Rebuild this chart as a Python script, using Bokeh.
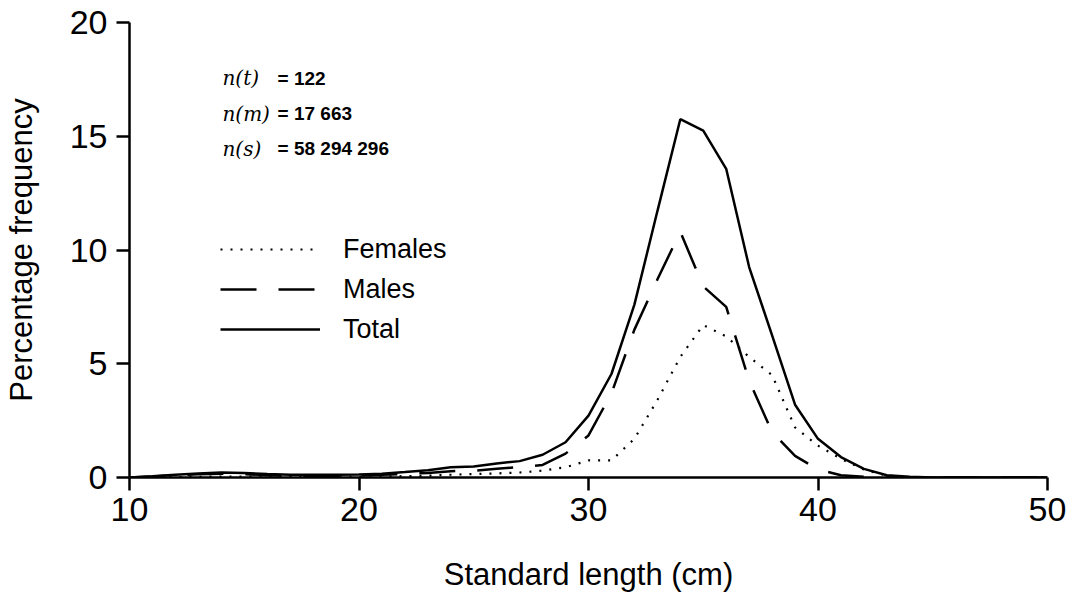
from bokeh.plotting import figure
from bokeh.models import Range1d, FixedTicker, Legend, LegendItem, Label
from bokeh.embed import file_html
from bokeh.resources import INLINE

lengths = list(range(10, 51))
total = [0.0, 0.05, 0.12, 0.18, 0.22, 0.2, 0.15, 0.12, 0.12, 0.12,
         0.13, 0.17, 0.24, 0.32, 0.45, 0.48, 0.62, 0.72, 1.0, 1.55,
         2.72, 4.55, 7.6, 11.7, 15.75, 15.25, 13.57, 9.25, 6.25, 3.2,
         1.7, 0.9, 0.38, 0.1, 0.03, 0.0, 0.0, 0.0, 0.0, 0.0, 0.0]
males = [0.0, 0.04, 0.1, 0.14, 0.17, 0.15, 0.1, 0.08, 0.08, 0.08,
         0.09, 0.12, 0.16, 0.2, 0.28, 0.3, 0.38, 0.46, 0.55, 1.05,
         1.85, 3.7, 6.5, 8.7, 10.8, 8.4, 7.5, 4.25, 2.0, 0.95,
         0.35, 0.1, 0.03, 0.0, 0.0, 0.0, 0.0, 0.0, 0.0, 0.0, 0.0]
females = [0.0, 0.01, 0.02, 0.03, 0.04, 0.04, 0.03, 0.03, 0.03, 0.03,
           0.03, 0.04, 0.06, 0.08, 0.12, 0.15, 0.18, 0.22, 0.3, 0.45,
           0.75, 0.75, 1.7, 3.4, 5.3, 6.7, 6.2, 5.3, 4.5, 2.2,
           1.4, 0.82, 0.35, 0.08, 0.02, 0.0, 0.0, 0.0, 0.0, 0.0, 0.0]
x_ticks = [10, 20, 30, 40, 50]
y_ticks = [0, 5, 10, 15, 20]
legend_labels = ["Females", "Males", "Total"]
sample_tags = ["n(t)", "n(m)", "n(s)"]
sample_counts = ["= 122", "= 17 663", "= 58 294 296"]
tag_x = 14.05
count_x = 16.45
tag_y = [17.54, 16.0, 14.46]

FONT = "Liberation Sans"

p = figure(width=1070, height=594, output_backend="svg", toolbar_location=None,
           x_range=Range1d(10, 50), y_range=Range1d(0, 20),
           min_border_left=129, min_border_right=23, min_border_top=22,
           min_border_bottom=117)
p.outline_line_color = None
p.xgrid.visible = False
p.ygrid.visible = False
p.background_fill_color = "white"
p.border_fill_color = "white"

for ax in (p.xaxis[0], p.yaxis[0]):
    ax.axis_line_width = 2.5
    ax.axis_line_color = "black"
    ax.major_tick_line_width = 2.5
    ax.major_tick_line_color = "black"
    ax.major_tick_in = 0
    ax.major_tick_out = 13
    ax.minor_tick_line_color = None
    ax.major_label_text_font = FONT
    ax.major_label_text_font_size = "34px"
    ax.major_label_text_color = "black"
    ax.axis_label_text_font = FONT
    ax.axis_label_text_font_size = "31px"
    ax.axis_label_text_font_style = "normal"
    ax.axis_label_text_color = "black"

p.xaxis[0].ticker = FixedTicker(ticks=x_ticks)
p.yaxis[0].ticker = FixedTicker(ticks=y_ticks)
p.xaxis[0].axis_label = "Standard length (cm)"
p.yaxis[0].axis_label = "Percentage frequency"
p.xaxis[0].major_label_standoff = 7
p.yaxis[0].major_label_standoff = 9
p.xaxis[0].axis_label_standoff = 33
p.yaxis[0].axis_label_standoff = 28

r_f = p.line(lengths, females, line_color="black", line_width=2.2, line_dash="2 8")
r_m = p.line(lengths, males, line_color="black", line_width=2.5, line_dash="36 22")
r_t = p.line(lengths, total, line_color="black", line_width=2.5)

legend = Legend(items=[LegendItem(label=legend_labels[0], renderers=[r_f]),
                       LegendItem(label=legend_labels[1], renderers=[r_m]),
                       LegendItem(label=legend_labels[2], renderers=[r_t])],
                location=(91, 128), border_line_color=None,
                background_fill_alpha=0, padding=0, margin=0, spacing=0,
                glyph_width=100, glyph_height=40, label_height=40,
                label_standoff=23, label_text_font=FONT,
                label_text_font_size="27px", label_text_color="black")
p.add_layout(legend)

for tag, cnt, ty in zip(sample_tags, sample_counts, tag_y):
    p.add_layout(Label(x=tag_x, y=ty, text=tag, text_font="DejaVu Serif",
                       text_font_style="italic", text_font_size="20px",
                       text_color="black", text_baseline="alphabetic"))
    p.add_layout(Label(x=count_x, y=ty, text=cnt, text_font=FONT,
                       text_font_style="bold", text_font_size="19px",
                       text_color="black", text_baseline="alphabetic"))

open("out.html", "w").write(file_html(p, INLINE))
